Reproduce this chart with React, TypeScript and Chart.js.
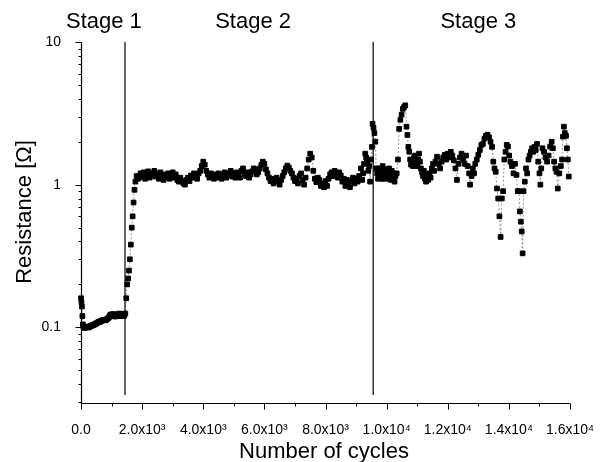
import React, { useEffect, useRef } from "react";
import { Chart, registerables } from "chart.js";

Chart.register(...registerables);

// ---- data ----
const stage1Cycles = [0, 15, 30, 45, 60, 80, 100, 120, 145, 170, 195, 220, 245, 270, 295, 320, 345, 370, 395, 420, 445, 470, 495, 520, 545, 570, 595, 620, 645, 670, 695, 720, 745, 770, 795, 820, 845, 870, 895, 920, 945, 970, 995, 1020, 1045, 1070, 1095, 1120, 1145, 1170, 1195, 1220, 1245, 1270, 1295, 1320, 1345, 1370, 1395, 1420, 1450, 1480, 1510, 1540, 1570, 1600, 1630, 1660, 1690, 1720, 1750, 1780, 1820, 1860];
const stage1Resistance = [0.16, 0.15, 0.14, 0.12, 0.105, 0.1, 0.1, 0.099, 0.1, 0.1, 0.101, 0.101, 0.1, 0.1, 0.102, 0.102, 0.103, 0.103, 0.104, 0.104, 0.105, 0.106, 0.106, 0.107, 0.108, 0.109, 0.109, 0.11, 0.11, 0.111, 0.112, 0.112, 0.113, 0.113, 0.112, 0.113, 0.114, 0.115, 0.116, 0.118, 0.121, 0.123, 0.12, 0.122, 0.124, 0.12, 0.123, 0.119, 0.121, 0.123, 0.12, 0.121, 0.125, 0.122, 0.12, 0.124, 0.121, 0.123, 0.12, 0.122, 0.125, 0.16, 0.2, 0.22, 0.25, 0.3, 0.38, 0.5, 0.6, 0.75, 0.92, 1.05, 1.15, 1.1];

const stage2Cycles = [1900, 1950, 2000, 2050, 2100, 2150, 2200, 2250, 2300, 2350, 2400, 2450, 2500, 2550, 2600, 2650, 2700, 2750, 2800, 2850, 2900, 2950, 3000, 3050, 3100, 3150, 3200, 3250, 3300, 3350, 3400, 3450, 3500, 3550, 3600, 3650, 3700, 3750, 3800, 3850, 3900, 3950, 4000, 4050, 4100, 4150, 4200, 4250, 4300, 4350, 4400, 4450, 4500, 4550, 4600, 4650, 4700, 4750, 4800, 4850, 4900, 4950, 5000, 5050, 5100, 5150, 5200, 5250, 5300, 5350, 5400, 5450, 5500, 5550, 5600, 5650, 5700, 5750, 5800, 5850, 5900, 5950, 6000, 6050, 6100, 6150, 6200, 6250, 6300, 6350, 6400, 6450, 6500, 6550, 6600, 6650, 6700, 6750, 6800, 6850, 6900, 6950, 7000, 7050, 7100, 7150, 7200, 7250, 7300, 7350, 7400, 7450, 7500, 7550, 7600, 7650, 7700, 7750, 7800, 7850, 7900, 7950, 8000, 8050, 8100, 8150, 8200, 8250, 8300, 8350, 8400, 8450, 8500, 8550, 8600, 8650, 8700, 8750, 8800, 8850, 8900, 8950, 9000, 9050, 9100];
const stage2Resistance = [1.12, 1.2, 1.15, 1.22, 1.1, 1.18, 1.24, 1.12, 1.2, 1.16, 1.25, 1.14, 1.2, 1.1, 1.22, 1.15, 1.08, 1.18, 1.12, 1.2, 1.1, 1.16, 1.22, 1.12, 1.18, 1.08, 1.05, 1.12, 1.06, 1.02, 1.0, 1.08, 1.12, 1.06, 1.16, 1.12, 1.2, 1.14, 1.1, 1.2, 1.25, 1.35, 1.45, 1.38, 1.25, 1.18, 1.12, 1.2, 1.15, 1.1, 1.18, 1.12, 1.2, 1.14, 1.1, 1.18, 1.22, 1.12, 1.16, 1.2, 1.25, 1.14, 1.2, 1.12, 1.22, 1.16, 1.12, 1.25, 1.3, 1.2, 1.15, 1.22, 1.12, 1.18, 1.24, 1.3, 1.28, 1.18, 1.22, 1.3, 1.38, 1.45, 1.4, 1.28, 1.2, 1.12, 1.06, 1.1, 1.02, 1.08, 1.12, 1.05, 1.0, 1.08, 1.15, 1.22, 1.3, 1.36, 1.32, 1.25, 1.2, 1.12, 1.06, 1.1, 1.02, 1.15, 1.2, 1.08, 1.0, 1.12, 1.3, 1.5, 1.65, 1.55, 1.25, 1.1, 1.04, 1.12, 1.08, 0.98, 1.02, 0.96, 1.06, 0.98, 1.1, 1.18, 1.22, 1.15, 1.25, 1.18, 1.12, 1.22, 1.16, 1.05, 1.1, 0.98, 1.08, 1.0, 0.96, 1.06, 1.12, 1.02, 1.1, 1.05, 1.15];

const stage3Cycles = [9160, 9200, 9230, 9260, 9300, 9330, 9360, 9400, 9430, 9460, 9490, 9520, 9540, 9570, 9600, 9630, 9660, 9690, 9720, 9750, 9780, 9810, 9840, 9870, 9900, 9930, 9960, 9990, 10020, 10050, 10080, 10110, 10140, 10170, 10200, 10230, 10260, 10290, 10330, 10370, 10410, 10450, 10490, 10530, 10570, 10610, 10650, 10680, 10710, 10740, 10770, 10800, 10830, 10860, 10900, 10930, 10960, 11000, 11030, 11060, 11090, 11120, 11160, 11190, 11220, 11250, 11290, 11320, 11360, 11400, 11440, 11480, 11520, 11560, 11600, 11650, 11700, 11750, 11800, 11850, 11900, 11950, 12000, 12050, 12100, 12150, 12200, 12250, 12300, 12350, 12400, 12450, 12500, 12550, 12600, 12650, 12700, 12730, 12780, 12820, 12860, 12900, 12950, 13000, 13050, 13100, 13150, 13200, 13250, 13300, 13350, 13400, 13450, 13490, 13530, 13570, 13610, 13650, 13690, 13730, 13770, 13810, 13850, 13890, 13930, 13970, 14010, 14050, 14100, 14150, 14200, 14250, 14290, 14330, 14360, 14390, 14420, 14450, 14480, 14520, 14560, 14600, 14640, 14680, 14720, 14760, 14800, 14840, 14880, 14920, 14960, 15000, 15030, 15060, 15100, 15150, 15200, 15250, 15300, 15350, 15400, 15440, 15480, 15520, 15560, 15600, 15650, 15700, 15740, 15770, 15800, 15830, 15870, 15900, 15930, 15960];
const stage3Resistance = [1.3, 1.08, 1.2, 1.4, 1.65, 1.55, 1.45, 1.25, 1.35, 1.05, 1.5, 1.84, 2.67, 2.5, 2.3, 2.0, 1.3, 1.2, 1.1, 1.3, 1.15, 1.25, 1.1, 1.35, 1.2, 1.1, 1.28, 1.15, 1.22, 1.1, 1.3, 1.18, 1.08, 1.25, 1.12, 1.2, 1.05, 1.15, 1.2, 1.5, 2.46, 2.85, 3.1, 3.4, 3.5, 3.6, 2.55, 2.23, 1.84, 1.7, 1.5, 1.38, 1.45, 1.35, 1.55, 1.6, 1.42, 1.35, 1.5, 1.65, 1.45, 1.3, 1.22, 1.15, 1.25, 1.1, 1.05, 1.18, 1.08, 1.2, 1.12, 1.3, 1.4, 1.25, 1.45, 1.57, 1.4, 1.3, 1.45, 1.55, 1.62, 1.5, 1.65, 1.55, 1.7, 1.6, 1.48, 1.3, 1.08, 1.4, 1.55, 1.65, 1.5, 1.4, 1.6, 1.35, 1.2, 1.0, 1.15, 1.3, 1.2, 1.4, 1.5, 1.62, 1.75, 1.9, 1.93, 2.1, 2.2, 2.24, 2.15, 2.0, 1.84, 1.45, 1.3, 1.23, 0.94, 0.8, 0.6, 0.43, 0.8, 0.9, 1.5, 1.7, 1.9, 1.85, 1.6, 1.45, 1.35, 1.2, 1.4, 1.17, 0.9, 0.9, 0.65, 0.55, 0.47, 0.33, 0.9, 1.05, 1.3, 1.2, 1.5, 1.6, 1.7, 1.8, 1.7, 1.84, 1.75, 1.93, 1.45, 1.2, 1.0, 1.3, 1.8, 1.7, 1.55, 1.45, 1.6, 1.85, 2.0, 1.8, 1.45, 1.3, 1.23, 0.94, 1.2, 1.35, 1.5, 2.17, 2.55, 2.3, 2.2, 1.8, 1.5, 1.14];

const stageBoundaries = [1440, 9560];
const stageLabels = ["Stage 1", "Stage 2", "Stage 3"];
const stageLabelCycles = [750, 5630, 13000];

const xMin = 0;
const xMax = 16000;
const xStep = 2000;
const xMinorStep = 1000;
const yMin = 0.0295;
const yMax = 10;
const yMajorTicks = [0.1, 1, 10];
const boundaryBottom = 0.0335;

const xTitle = "Number of cycles";
const yTitle = "Resistance [Ω]";

const sup: Record<number, string> = { 3: "³", 4: "⁴" };

function fmtX(v: number): string {
  if (v === 0) return "0.0";
  const e = Math.floor(Math.log10(v) + 1e-9);
  const m = v / Math.pow(10, e);
  return `${m.toFixed(1)}x10${sup[e] ?? e}`;
}

function zip(xs: number[], ys: number[]) {
  return xs.map((x, i) => ({ x, y: ys[i] }));
}

const FONT = "'Liberation Sans', Arial, sans-serif";

const overlayPlugin = {
  id: "overlay",
  afterDraw(chart: any) {
    const { ctx, chartArea } = chart;
    const xs = chart.scales.x;
    const ys = chart.scales.y;
    const left = Math.round(chartArea.left) + 0.5;
    const bottom = Math.round(chartArea.bottom) + 0.5;
    ctx.save();
    ctx.strokeStyle = "#000";
    ctx.lineWidth = 1.2;
    ctx.beginPath();
    ctx.moveTo(left, ys.getPixelForValue(yMax));
    ctx.lineTo(left, bottom);
    ctx.lineTo(xs.getPixelForValue(xMax), bottom);
    ctx.stroke();
    ctx.lineWidth = 1;
    ctx.beginPath();
    for (let v = xMin; v <= xMax; v += xMinorStep) {
      const px = Math.round(xs.getPixelForValue(v)) + 0.5;
      const len = v % xStep === 0 ? 6 : 3;
      ctx.moveTo(px, bottom);
      ctx.lineTo(px, bottom + len);
    }
    for (let d = -2; d <= 1; d++) {
      for (let k = 1; k <= 9; k++) {
        const v = k * Math.pow(10, d);
        if (v < yMin - 1e-12 || v > yMax + 1e-9) continue;
        const py = Math.round(ys.getPixelForValue(v)) + 0.5;
        const major = yMajorTicks.some((t) => Math.abs(t - v) / t < 1e-6);
        ctx.moveTo(left, py);
        ctx.lineTo(left - (major ? 6 : 3), py);
      }
    }
    ctx.stroke();
    ctx.fillStyle = "#000";
    ctx.font = `22px ${FONT}`;
    ctx.textAlign = "center";
    ctx.textBaseline = "middle";
    ctx.fillText(xTitle, 324, 452);
    stageLabels.forEach((s, i) => {
      ctx.fillText(s, xs.getPixelForValue(stageLabelCycles[i]), 22);
    });
    ctx.save();
    ctx.translate(25, 212);
    ctx.rotate(-Math.PI / 2);
    ctx.fillText(yTitle, 0, 0);
    ctx.restore();
    ctx.restore();
  },
};

export default function App() {
  const ref = useRef<HTMLCanvasElement | null>(null);
  useEffect(() => {
    if (!ref.current) return;
    const markStyle = {
      pointStyle: "rect" as const,
      pointRadius: 3.3,
      pointBorderWidth: 1,
      pointBackgroundColor: "#000",
      pointBorderColor: "#000",
      borderColor: "#777",
      borderWidth: 0.8,
      borderDash: [2, 2],
      showLine: true,
      clip: false as any,
    };
    const boundaryDatasets = stageBoundaries.map((b) => ({
      data: [
        { x: b, y: boundaryBottom },
        { x: b, y: yMax },
      ],
      showLine: true,
      borderColor: "#000",
      borderWidth: 1.2,
      pointRadius: 0,
    }));
    const chart = new Chart(ref.current, {
      type: "scatter",
      data: {
        datasets: [
          ...boundaryDatasets,
          { data: zip(stage1Cycles, stage1Resistance), ...markStyle },
          { data: zip(stage2Cycles, stage2Resistance), ...markStyle },
          { data: zip(stage3Cycles, stage3Resistance), ...markStyle },
        ] as any,
      },
      options: {
        animation: false,
        responsive: false,
        events: [],
        layout: { padding: { top: 42, right: 30, left: 0, bottom: 0 } },
        plugins: { legend: { display: false }, tooltip: { enabled: false } },
        scales: {
          x: {
            type: "linear",
            min: xMin,
            max: xMax,
            grid: { display: false },
            border: { display: false },
            ticks: {
              stepSize: xStep,
              autoSkip: false,
              maxRotation: 0,
              padding: 11,
              color: "#000",
              font: { family: FONT, size: 14 },
              callback: (v: any) => fmtX(Number(v)),
            },
            afterFit: (s: any) => {
              s.height = 59;
              s.paddingLeft = 0;
              s.paddingRight = 0;
            },
          },
          y: {
            type: "logarithmic",
            min: yMin,
            max: yMax,
            grid: { display: false },
            border: { display: false },
            ticks: {
              autoSkip: false,
              padding: 12,
              color: "#000",
              font: { family: FONT, size: 14 },
              callback: (v: any) => {
                const n = Number(v);
                return yMajorTicks.some((t) => Math.abs(t - n) / t < 1e-6) ? String(n) : "";
              },
            },
            afterFit: (s: any) => {
              s.width = 81;
              s.paddingTop = 0;
              s.paddingBottom = 0;
            },
          },
        },
      },
      plugins: [overlayPlugin],
    });
    return () => chart.destroy();
  }, []);
  return (
    <div style={{ position: "fixed", left: 0, top: 0, width: 600, height: 462, background: "#fff" }}>
      <canvas ref={ref} width={600} height={462} style={{ display: "block" }} />
    </div>
  );
}
